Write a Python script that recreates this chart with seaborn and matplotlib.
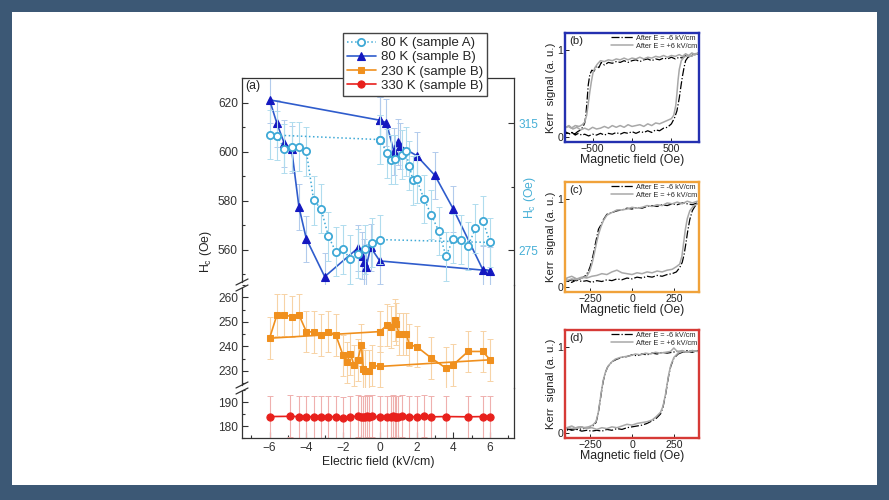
import numpy as np
import matplotlib.pyplot as plt
import seaborn as sns
from matplotlib.patches import Rectangle
from matplotlib.lines import Line2D
from matplotlib.ticker import MultipleLocator, FixedLocator

# ---- (a) coercive field vs electric field ----
# 80 K sample A (right axis), loop order: 0 -> +6, back to 0, 0 -> -6, back to 0
E_A = [0, 0.4, 0.6, 0.8, 1.2, 1.4, 1.6, 1.8, 2.0, 2.4,
       2.8, 3.2, 3.6, 4.0, 4.4, 4.8, 5.2, 5.6, 6.0, 0,
       -0.4, -0.8, -1.2, -1.6, -2.0, -2.4, -2.8, -3.2, -3.6, -4.0,
       -4.4, -4.8, -5.2, -5.6, -6.0, 0]
Hc_A = [309.8, 305.5, 303.4, 303.6, 305.1, 306.1, 301.6, 297.0, 297.4, 291.1,
        286.1, 281.0, 273.1, 278.6, 278.3, 276.3, 281.8, 284.3, 277.4, 278.3,
        277.3, 275.2, 273.8, 272.1, 275.2, 274.5, 279.4, 288.0, 290.7, 306.1,
        307.5, 307.5, 306.9, 311.0, 311.3, 309.8]
err_A = 7.7

# 80 K sample B
E_B = [0, 0.36, 0.76, 1.0, 1.1, 2.0, 3.0, 4.0, 5.6, 6.0,
       0, -0.5, -0.75, -0.85, -0.95, -1.2, -3.0, -4.0, -4.4, -4.8,
       -5.2, -5.6, -6.0, 0]
Hc_B = [612.8, 611.8, 600.2, 603.9, 602.3, 598.4, 590.3, 576.6, 552.0, 551.5,
        555.5, 561.0, 552.9, 554.9, 557.7, 560.7, 549.1, 564.5, 577.4, 601.0,
        603.4, 611.5, 621.1, 612.8]
err_B = 9.5

# 230 K sample B
E_230 = [0, 0.4, 0.6, 0.8, 0.9, 1.05, 1.26, 1.45, 1.6, 2.0,
         2.8, 3.6, 4.0, 4.8, 5.6, 6.0, 0, -0.4, -0.6, -0.8,
         -0.9, -1.0, -1.2, -1.4, -1.6, -1.8, -2.0, -2.4, -2.8, -3.2,
         -3.6, -4.0, -4.4, -4.8, -5.2, -5.6, -6.0, 0]
Hc_230 = [246.0, 248.7, 248.0, 250.8, 249.0, 245.0, 245.0, 245.0, 240.6, 239.9,
          235.2, 231.1, 232.5, 237.9, 237.9, 234.5, 231.8, 232.2, 230.1, 230.1,
          230.7, 240.6, 234.5, 232.2, 236.9, 233.4, 236.3, 244.7, 246.0, 244.7,
          245.8, 246.0, 252.8, 252.1, 252.8, 252.8, 243.3, 246.0]
err_230 = 8.5

# 330 K sample B
E_330 = [-6, -4.9, -4.4, -4.0, -3.6, -3.2, -2.8, -2.4, -2.0, -1.6,
         -1.2, -1.0, -0.9, -0.8, -0.7, -0.6, -0.4, 0, 0.4, 0.6,
         0.7, 0.8, 0.9, 1.0, 1.2, 1.6, 2.0, 2.4, 2.8, 3.6,
         4.8, 5.6, 6.0]
Hc_330 = [184.0, 184.1, 184.0, 183.9, 184.0, 184.0, 183.9, 184.0, 183.6, 183.9,
          184.2, 183.8, 183.9, 184.0, 184.3, 183.9, 184.1, 183.8, 183.9, 184.0,
          184.1, 183.8, 184.0, 183.9, 184.1, 183.9, 184.0, 184.1, 183.9, 184.0,
          183.9, 184.0, 183.9]
err_330 = 8.8

legend_labels = ['80 K (sample A)', '80 K (sample B)', '230 K (sample B)', '330 K (sample B)']

# ---- (b)-(d) Kerr loops: upper branch (+ to -) then lower branch (- to +) ----
b_neg_H = [850, 800, 760, 720, 680, 640, 600, 550, 500, 450, 400, 350, 300, 250, 200, 150, 100, 50, 0, -50,
           -100, -150, -200, -250, -300, -350, -390, -420, -450, -480, -510, -535, -555, -570, -585, -600,
           -620, -650, -690, -730, -770, -810, -850,
           -850, -800, -760, -720, -680, -640, -600, -550, -500, -450, -400, -350, -300, -250, -200, -150,
           -100, -50, 0, 50, 100, 150, 200, 250, 300, 350, 400, 450, 500, 540, 570, 600, 620, 640, 660, 680,
           710, 750, 790, 830, 850]
b_neg_K = [0.97, 0.95, 0.96, 0.93, 0.94, 0.91, 0.92, 0.90, 0.92, 0.90, 0.91, 0.89, 0.90, 0.88, 0.90, 0.89,
           0.87, 0.89, 0.88, 0.86, 0.88, 0.86, 0.87, 0.85, 0.86, 0.83, 0.86, 0.80, 0.82, 0.76, 0.77, 0.72,
           0.60, 0.42, 0.25, 0.16, 0.12, 0.08, 0.06, 0.03, 0.05, 0.04, 0.06,
           0.05, 0.03, 0.05, 0.02, 0.04, 0.02, 0.03, 0.01, 0.03, 0.02, 0.04, 0.02, 0.04, 0.03, 0.05, 0.03,
           0.05, 0.04, 0.06, 0.04, 0.06, 0.05, 0.07, 0.05, 0.08, 0.07, 0.10, 0.11, 0.15, 0.22, 0.30, 0.45,
           0.58, 0.70, 0.80, 0.88, 0.92, 0.93, 0.95, 0.96, 0.97]
b_pos_H = [850, 800, 760, 720, 680, 640, 600, 550, 500, 450, 400, 350, 300, 250, 200, 150, 100, 50, 0, -50,
           -100, -150, -200, -250, -300, -350, -400, -440, -470, -495, -515, -535, -555, -575, -600, -630,
           -670, -720, -770, -810, -850,
           -850, -800, -750, -700, -650, -600, -550, -500, -450, -400, -350, -300, -250, -200, -150, -100,
           -50, 0, 50, 100, 150, 200, 250, 300, 350, 400, 450, 500, 530, 555, 570, 585, 600, 625, 660, 700,
           750, 800, 850]
b_pos_K = [0.97, 0.95, 0.97, 0.94, 0.96, 0.93, 0.95, 0.93, 0.94, 0.92, 0.94, 0.92, 0.93, 0.91, 0.92, 0.90,
           0.92, 0.90, 0.91, 0.89, 0.91, 0.89, 0.90, 0.88, 0.89, 0.87, 0.88, 0.84, 0.80, 0.74, 0.64, 0.52,
           0.38, 0.25, 0.17, 0.14, 0.12, 0.13, 0.10, 0.12, 0.11,
           0.10, 0.13, 0.09, 0.11, 0.08, 0.10, 0.08, 0.11, 0.09, 0.10, 0.12, 0.10, 0.13, 0.11, 0.13, 0.11,
           0.14, 0.12, 0.13, 0.14, 0.12, 0.15, 0.13, 0.16, 0.15, 0.17, 0.19, 0.21, 0.25, 0.36, 0.50, 0.66,
           0.78, 0.88, 0.92, 0.94, 0.93, 0.96, 0.97]

c_neg_H = [390, 360, 330, 300, 270, 240, 210, 180, 150, 120, 90, 60, 30, 0, -30, -60, -90, -120, -150, -170,
           -185, -200, -210, -220, -230, -240, -250, -260, -275, -300, -330, -360, -390,
           -390, -360, -330, -300, -270, -240, -210, -180, -150, -120, -90, -60, -30, 0, 30, 60, 90, 120,
           150, 180, 210, 240, 265, 285, 300, 312, 322, 332, 345, 360, 375, 390]
c_neg_K = [0.96, 0.94, 0.95, 0.96, 0.94, 0.95, 0.93, 0.94, 0.92, 0.93, 0.92, 0.90, 0.91, 0.89, 0.90, 0.88,
           0.87, 0.85, 0.83, 0.77, 0.71, 0.66, 0.57, 0.48, 0.38, 0.30, 0.23, 0.18, 0.13, 0.10, 0.07, 0.08,
           0.06,
           0.07, 0.05, 0.08, 0.06, 0.07, 0.05, 0.07, 0.06, 0.08, 0.07, 0.09, 0.08, 0.10, 0.09, 0.11, 0.10,
           0.12, 0.11, 0.13, 0.12, 0.14, 0.15, 0.17, 0.22, 0.28, 0.38, 0.50, 0.63, 0.77, 0.87, 0.92, 0.95]
c_pos_H = [390, 360, 330, 300, 270, 240, 210, 180, 150, 120, 90, 60, 30, 0, -30, -60, -90, -120, -150, -170,
           -185, -200, -212, -225, -238, -252, -270, -300, -330, -360, -390,
           -390, -360, -330, -300, -270, -240, -210, -180, -150, -120, -90, -60, -30, 0, 30, 60, 90, 120,
           150, 180, 210, 240, 265, 285, 298, 308, 318, 330, 345, 365, 390]
c_pos_K = [0.98, 0.96, 0.98, 0.95, 0.97, 0.95, 0.96, 0.93, 0.94, 0.92, 0.93, 0.91, 0.90, 0.91, 0.89, 0.88,
           0.88, 0.85, 0.82, 0.76, 0.69, 0.60, 0.50, 0.38, 0.27, 0.18, 0.12, 0.10, 0.08, 0.09, 0.07,
           0.10, 0.12, 0.09, 0.11, 0.10, 0.12, 0.13, 0.15, 0.14, 0.17, 0.19, 0.16, 0.15, 0.14, 0.16, 0.15,
           0.17, 0.16, 0.18, 0.17, 0.19, 0.20, 0.23, 0.26, 0.35, 0.50, 0.65, 0.78, 0.87, 0.92, 0.95]

d_neg_H = [390, 360, 330, 300, 270, 240, 210, 180, 150, 120, 90, 60, 30, 0, -30, -60, -90, -120, -145, -160,
           -172, -182, -192, -202, -215, -235, -260, -290, -320, -350, -390,
           -390, -360, -330, -300, -270, -240, -210, -180, -150, -120, -90, -60, -30, 0, 30, 60, 90, 120,
           145, 170, 185, 200, 210, 220, 232, 250, 275, 300, 330, 360, 390]
d_neg_K = [0.96, 0.95, 0.96, 0.94, 0.95, 0.94, 0.93, 0.94, 0.92, 0.93, 0.91, 0.92, 0.90, 0.91, 0.89, 0.88,
           0.86, 0.83, 0.77, 0.70, 0.60, 0.48, 0.35, 0.22, 0.12, 0.08, 0.06, 0.05, 0.04, 0.05, 0.03,
           0.05, 0.03, 0.04, 0.02, 0.03, 0.02, 0.03, 0.02, 0.04, 0.03, 0.05, 0.04, 0.06, 0.07, 0.08, 0.09,
           0.11, 0.14, 0.17, 0.22, 0.30, 0.44, 0.56, 0.68, 0.78, 0.87, 0.92, 0.94, 0.95, 0.94, 0.96]
d_pos_H = [390, 360, 330, 300, 270, 250, 230, 200, 170, 140, 110, 80, 50, 20, -10, -40, -70, -100, -125, -145,
           -160, -172, -182, -192, -202, -215, -235, -260, -290, -320, -350, -390,
           -390, -360, -330, -300, -270, -240, -210, -180, -150, -120, -90, -60, -30, 0, 30, 60, 90, 120,
           145, 170, 185, 200, 210, 220, 232, 250, 275, 300, 330, 360, 390]
d_pos_K = [0.95, 0.96, 0.94, 0.96, 0.95, 0.99, 0.95, 0.94, 0.93, 0.94, 0.92, 0.93, 0.91, 0.92, 0.90, 0.89,
           0.88, 0.86, 0.82, 0.77, 0.70, 0.61, 0.49, 0.36, 0.23, 0.13, 0.09, 0.07, 0.06, 0.07, 0.05, 0.06,
           0.06, 0.08, 0.05, 0.07, 0.05, 0.06, 0.04, 0.06, 0.05, 0.07, 0.06, 0.08, 0.10, 0.09, 0.11, 0.12,
           0.13, 0.15, 0.19, 0.24, 0.31, 0.45, 0.57, 0.69, 0.79, 0.88, 0.93, 0.95, 0.94, 0.96, 0.95]

loop_labels = ['After E = -6 kV/cm', 'After E = +6 kV/cm']

# ---- style ----
sns.set_style("ticks")
plt.rcParams['font.family'] = ['Liberation Sans', 'DejaVu Sans']
plt.rcParams['mathtext.fontset'] = 'custom'
plt.rcParams['mathtext.rm'] = 'Liberation Sans'
plt.rcParams['mathtext.default'] = 'regular'

dark = '#333333'
c_A = '#3fa9d6'
c_B_line = '#2f5ccc'
c_B_mark = '#1418c0'
c_230 = '#f0901e'
c_330 = '#e8201c'

fig = plt.figure(figsize=(8.89, 5), dpi=100)
fig.patch.set_facecolor('#3c5875')
fig.add_artist(Rectangle((12 / 889, 15 / 500), 865 / 889, 473 / 500, transform=fig.transFigure,
                         facecolor='white', edgecolor='none', zorder=-10))


def fy(px):
    return 1 - px / 500


L, W = 242 / 889, 272 / 889
ax_top = fig.add_axes([L, fy(285), W, (285 - 78) / 500])
ax_mid = fig.add_axes([L, fy(388), W, (388 - 285) / 500])
ax_bot = fig.add_axes([L, fy(438), W, (438 - 388) / 500])

for ax in (ax_top, ax_mid, ax_bot):
    ax.set_xlim(-7.5, 7.3)
    ax.set_facecolor('none')
    for s in ax.spines.values():
        s.set_color(dark)
        s.set_linewidth(0.9)
    ax.spines['right'].set_visible(True)
    ax.tick_params(which='both', direction='in', colors=dark, labelsize=8.6, pad=3, width=0.8)
    ax.tick_params(which='major', length=4)
    ax.tick_params(which='minor', length=2)
    ax.xaxis.set_minor_locator(MultipleLocator(1))

ax_top.set_ylim(545.7, 630)
ax_top.set_yticks([560, 580, 600, 620])
ax_top.yaxis.set_minor_locator(MultipleLocator(10))
ax_top.spines['bottom'].set_visible(False)
ax_top.spines['left'].set_bounds(547, 630)
ax_top.tick_params(axis='x', which='both', bottom=False, labelbottom=False)

ax_mid.set_ylim(223, 265)
ax_mid.set_yticks([230, 240, 250, 260])
ax_mid.yaxis.set_minor_locator(MultipleLocator(5))
ax_mid.spines['top'].set_visible(False)
ax_mid.spines['bottom'].set_visible(False)
ax_mid.spines['left'].set_bounds(224.2, 263.8)
ax_mid.tick_params(axis='x', which='both', bottom=False, labelbottom=False)

ax_bot.set_ylim(175, 196)
ax_bot.set_yticks([180, 190])
ax_bot.yaxis.set_minor_locator(MultipleLocator(5))
ax_bot.spines['top'].set_visible(False)
ax_bot.spines['left'].set_bounds(175, 194.8)
ax_bot.set_xticks([-6, -4, -2, 0, 2, 4, 6])
ax_bot.set_xlabel('Electric field (kV/cm)', fontsize=8.8, labelpad=1, color='#222222')

# twin axis for sample A
ax_A = ax_top.twinx()
ax_A.set_ylim(264, 329.2)
ax_A.set_yticks([275, 315])
ax_A.yaxis.set_minor_locator(FixedLocator([295]))
for s in ax_A.spines.values():
    s.set_visible(False)
ax_A.tick_params(axis='y', which='both', direction='in', colors=dark, labelcolor='#46afd6',
                 labelsize=8.6, pad=3, width=0.8)
ax_A.tick_params(axis='y', which='major', length=4)
ax_A.tick_params(axis='y', which='minor', length=2)
ax_A.set_ylabel('H$_c$ (Oe)', color='#46afd6', fontsize=8.8)
ax_A.yaxis.set_label_coords(1.03, 0.42)

# error bars then lines
ax_top.errorbar(E_B, Hc_B, yerr=err_B, fmt='none', ecolor='#b2cbec', elinewidth=0.8,
                capsize=2.2, capthick=0.7, zorder=1)
sns.lineplot(x=E_B, y=Hc_B, sort=False, estimator=None, ax=ax_top, color=c_B_line, linewidth=1.2,
             marker='^', markersize=5.5, markerfacecolor=c_B_mark, markeredgecolor=c_B_mark,
             markeredgewidth=0.8, zorder=3)
h_B = ax_top.lines[-1]

ax_A.errorbar(E_A, Hc_A, yerr=err_A, fmt='none', ecolor='#b0dcee', elinewidth=0.8,
              capsize=2.2, capthick=0.7, zorder=1)
sns.lineplot(x=E_A, y=Hc_A, sort=False, estimator=None, ax=ax_A, color=c_A, linewidth=1.1,
             linestyle=':', marker='o', markersize=5.2, markerfacecolor='white', markeredgecolor=c_A,
             markeredgewidth=1.3, zorder=3)
h_A = ax_A.lines[-1]

ax_mid.errorbar(E_230, Hc_230, yerr=err_230, fmt='none', ecolor='#f7d3a6', elinewidth=0.8,
                capsize=2.2, capthick=0.7, zorder=1)
sns.lineplot(x=E_230, y=Hc_230, sort=False, estimator=None, ax=ax_mid, color=c_230, linewidth=1.2,
             marker='s', markersize=4.8, markerfacecolor=c_230, markeredgecolor=c_230, zorder=3)
h_230 = ax_mid.lines[-1]

ax_bot.errorbar(E_330, Hc_330, yerr=err_330, fmt='none', ecolor='#efb0ae', elinewidth=0.8,
                capsize=2.2, capthick=0.7, zorder=1)
sns.lineplot(x=E_330, y=Hc_330, sort=False, estimator=None, ax=ax_bot, color=c_330, linewidth=1.2,
             marker='o', markersize=5.2, markerfacecolor=c_330, markeredgecolor=c_330, zorder=3)
h_330 = ax_bot.lines[-1]

# axis break marks on the left spine
for yb in (285, 388):
    for off in (-3, 3):
        fig.add_artist(Line2D([236 / 889, 248 / 889], [fy(yb + off + 3), fy(yb + off - 3)],
                              transform=fig.transFigure, color=dark, linewidth=0.9))

fig.text(206 / 889, fy(252), 'H$_c$ (Oe)', rotation=90, ha='center', va='center',
         fontsize=8.8, color='#222222')
fig.text(245 / 889, fy(80), '(a)', ha='left', va='top', fontsize=8.8, color='#222222')

fig.legend(handles=[h_A, h_B, h_230, h_330], labels=legend_labels, loc='upper left',
           bbox_to_anchor=(343 / 889, fy(33)), bbox_transform=fig.transFigure,
           frameon=True, fancybox=False, edgecolor='#444444', framealpha=1, fontsize=9.5,
           handlelength=2.2, handletextpad=0.35, borderpad=0.3, labelspacing=0.15, borderaxespad=0)


# ---- loops (b), (c), (d) ----
def loop_panel(top_px, bottom_px, frame, tag, xlim, xticks, neg_H, neg_K, pos_H, pos_K):
    ax = fig.add_axes([565 / 889, fy(bottom_px), 134 / 889, (bottom_px - top_px) / 500])
    sns.lineplot(x=neg_H, y=neg_K, sort=False, estimator=None, ax=ax, color='black',
                 linestyle='-.', linewidth=0.9, label=loop_labels[0])
    sns.lineplot(x=pos_H, y=pos_K, sort=False, estimator=None, ax=ax, color='#a8a8a8',
                 linewidth=1.1, label=loop_labels[1])
    ax.set_xlim(*xlim)
    ax.set_ylim(-0.06, 1.2)
    ax.set_xticks(xticks)
    ax.set_yticks([0, 1])
    for s in ax.spines.values():
        s.set_visible(True)
        s.set_color(frame)
        s.set_linewidth(1.7)
    ax.tick_params(direction='in', length=3, width=0.7, colors='#222222', labelsize=7.6, pad=1.5)
    ax.set_xlabel('Magnetic field (Oe)', fontsize=8.8, labelpad=0, color='#222222')
    ax.set_ylabel('Kerr  signal (a. u.)', fontsize=8.2, labelpad=1, color='#222222')
    ax.legend(loc='upper right', fontsize=5.3, frameon=False, handlelength=3.0, handletextpad=0.4,
              labelspacing=0.1, borderaxespad=0.15, borderpad=0.1)
    ax.text(0.03, 0.97, tag, transform=ax.transAxes, ha='left', va='top', fontsize=8.2,
            color='#222222')
    return ax


loop_panel(33, 142, '#2430b0', '(b)', (-850, 850), [-500, 0, 500], b_neg_H, b_neg_K, b_pos_H, b_pos_K)
loop_panel(182, 292, '#f0a23a', '(c)', (-400, 400), [-250, 0, 250], c_neg_H, c_neg_K, c_pos_H, c_pos_K)
loop_panel(330, 438, '#d63a36', '(d)', (-400, 400), [-250, 0, 250], d_neg_H, d_neg_K, d_pos_H, d_pos_K)

plt.savefig('out.png', dpi=100, facecolor=fig.get_facecolor())
